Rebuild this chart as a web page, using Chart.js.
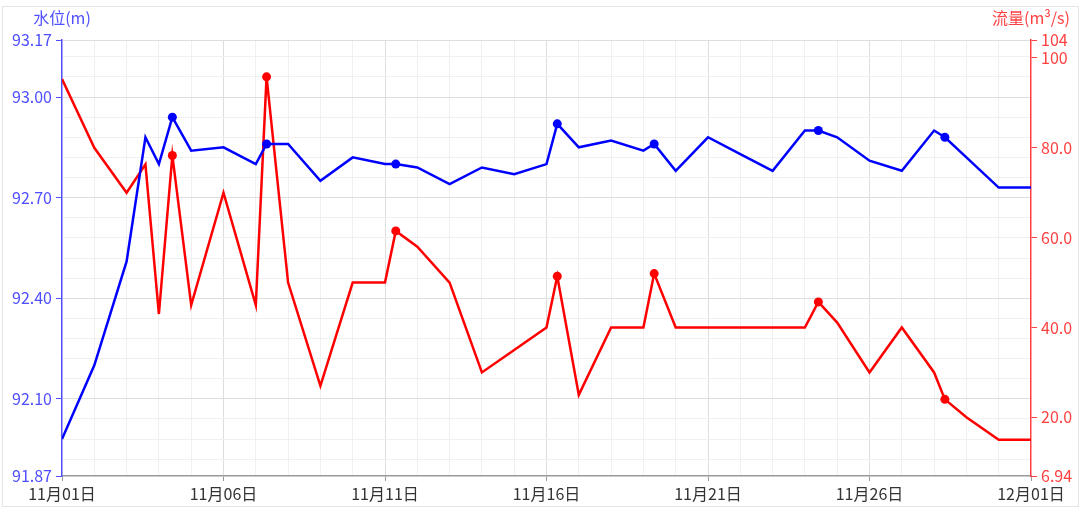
<!DOCTYPE html>
<html>
<head>
<meta charset="utf-8">
<script src="https://cdn.jsdelivr.net/npm/chart.js@4.4.0/dist/chart.umd.min.js"></script>
<style>
  html, body { margin: 0; padding: 0; background: #fff; }
  #wrap { position: relative; width: 1080px; height: 508px; }
  #frame { position: absolute; left: 2px; top: 6px; width: 1075px; height: 499px; border: 1px solid #e4e4e4; }
  canvas { position: absolute; left: 0; top: 0; }
</style>
</head>
<body>
<div id="wrap">
  <div id="frame"></div>
  <canvas id="chart" width="1080" height="508"></canvas>
</div>
<script>
// sample times (MM-DD HH)
const times = [
    '11-01 00', '11-02 00', '11-03 00', '11-03 14', '11-04 00', '11-04 10', '11-05 00',
    '11-06 00', '11-07 00', '11-07 08', '11-08 00', '11-09 00', '11-10 00', '11-11 00',
    '11-11 08', '11-12 00', '11-13 00', '11-14 00', '11-15 00', '11-16 00', '11-16 08',
    '11-17 00', '11-18 00', '11-19 00', '11-19 08', '11-20 00', '11-21 00', '11-22 00',
    '11-23 00', '11-24 00', '11-24 10', '11-25 00', '11-26 00', '11-27 00', '11-28 00',
    '11-28 08', '11-29 00', '11-30 00', '12-01 00'
];
// times that carry a dot marker
const markedTimes = ['11-04 10', '11-07 08', '11-11 08', '11-16 08', '11-19 08', '11-24 10', '11-28 08'];
// 水位 (m)
const waterLevel = [
    91.98, 92.20, 92.51, 92.88, 92.80, 92.94, 92.84,
    92.85, 92.80, 92.86, 92.86, 92.75, 92.82, 92.80,
    92.80, 92.79, 92.74, 92.79, 92.77, 92.80, 92.92,
    92.85, 92.87, 92.84, 92.86, 92.78, 92.88, 92.83,
    92.78, 92.90, 92.90, 92.88, 92.81, 92.78, 92.90,
    92.88, 92.82, 92.73, 92.73
];
// 流量 (m³/s)
const flow = [
    95.3, 80, 70, 76.3, 43, 78.3, 45,
    70, 45, 95.8, 50, 27, 50, 50,
    61.5, 58, 50, 30, 35, 40, 51.4,
    25, 40, 40, 52, 40, 40, 40,
    40, 40, 45.7, 41.1, 30, 40, 30,
    24, 20, 15, 15
];
const xTickLabels = ['11月01日', '11月06日', '11月11日', '11月16日', '11月21日', '11月26日', '12月01日'];
const levelTicks = [91.87, 92.10, 92.40, 92.70, 93.00, 93.17];
const flowTicks = [6.94, 20, 40, 60, 80, 100, 104];

const FONT = '"Noto Sans CJK SC", "Noto Sans", sans-serif';
const LEFT_COLOR = '#4f4fff';
const RIGHT_COLOR = '#ff4040';

function dayOffset(t) {
    const [md, hh] = t.split(' ');
    const [m, d] = md.split('-').map(Number);
    return (m === 12 ? 30 : 0) + d - 1 + Number(hh) / 24;
}

const isMajorLevel = v => levelTicks.some(t => Math.abs(t - v) < 0.001);

const axisTitles = {
    id: 'axisTitles',
    afterDraw(chart) {
        const { ctx, chartArea } = chart;
        ctx.save();
        ctx.font = '16px ' + FONT;
        ctx.textAlign = 'center';
        ctx.textBaseline = 'middle';
        ctx.fillStyle = LEFT_COLOR;
        ctx.fillText('水位(m)', chartArea.left, chartArea.top - 22);
        ctx.fillStyle = RIGHT_COLOR;
        ctx.fillText('流量(m³/s)', chartArea.right, chartArea.top - 22);
        ctx.restore();
    }
};

Chart.defaults.font.family = FONT;
Chart.defaults.font.size = 16;

const markPoint = c => (c.raw && markedTimes.includes(c.raw.t) ? 4.5 : 0);

const toPoints = values => times.map((t, i) => ({ x: dayOffset(t), y: values[i], t: t }));

new Chart(document.getElementById('chart'), {
    type: 'line',
    data: {
        datasets: [
            {
                label: '水位',
                yAxisID: 'yLevel',
                data: toPoints(waterLevel),
                borderColor: '#0000ff',
                backgroundColor: '#0000ff',
                borderWidth: 2.5,
                pointRadius: markPoint,
                pointBorderWidth: 0,
                tension: 0
            },
            {
                label: '流量',
                yAxisID: 'yFlow',
                data: toPoints(flow),
                borderColor: '#ff0000',
                backgroundColor: '#ff0000',
                borderWidth: 2.5,
                pointRadius: markPoint,
                pointBorderWidth: 0,
                tension: 0
            }
        ]
    },
    options: {
        responsive: false,
        animation: false,
        layout: { padding: { top: 40, left: 0, right: 0, bottom: 0 } },
        plugins: {
            legend: { display: false },
            tooltip: { enabled: false }
        },
        scales: {
            x: {
                type: 'linear',
                min: 0,
                max: 30,
                afterBuildTicks: s => { s.ticks = Array.from({ length: 31 }, (_, i) => ({ value: i })); },
                afterFit: s => { s.height = 32; },
                border: { color: '#999', width: 1.5 },
                grid: {
                    color: c => {
                        const v = c.tick ? c.tick.value : 1;
                        if (v === 0 || v === 30) return 'rgba(0,0,0,0)';
                        return v % 5 === 0 ? '#dedede' : '#f0f0f0';
                    },
                    tickColor: c => (c.tick && c.tick.value % 5 === 0 ? '#999' : 'rgba(0,0,0,0)'),
                    tickLength: 5
                },
                ticks: {
                    autoSkip: false,
                    maxRotation: 0,
                    color: '#333',
                    padding: 3,
                    callback: v => (v % 5 === 0 ? xTickLabels[v / 5] : '')
                }
            },
            yLevel: {
                type: 'linear',
                position: 'left',
                min: 91.87,
                max: 93.17,
                afterBuildTicks: s => {
                    const vals = [...levelTicks];
                    for (let v = 92.10 - 0.06; v > 91.88; v -= 0.06) vals.push(+v.toFixed(2));
                    for (let v = 92.10 + 0.06; v < 93.16; v += 0.06) vals.push(+v.toFixed(2));
                    const uniq = [...new Set(vals.map(v => +v.toFixed(2)))].sort((a, b) => a - b);
                    s.ticks = uniq.map(v => ({ value: v }));
                },
                afterFit: s => { s.width = 62; },
                border: { color: LEFT_COLOR, width: 1.5 },
                grid: {
                    color: c => {
                        const v = c.tick ? c.tick.value : 0;
                        if (Math.abs(v - 91.87) < 0.001) return 'rgba(0,0,0,0)';
                        return isMajorLevel(v) ? '#dedede' : '#f0f0f0';
                    },
                    tickColor: c => (c.tick && isMajorLevel(c.tick.value) ? LEFT_COLOR : 'rgba(0,0,0,0)'),
                    tickLength: 6
                },
                ticks: {
                    autoSkip: false,
                    color: LEFT_COLOR,
                    padding: 4,
                    callback: v => (isMajorLevel(v) ? v.toFixed(2) : '')
                }
            },
            yFlow: {
                type: 'linear',
                position: 'right',
                min: 6.94,
                max: 104,
                afterBuildTicks: s => { s.ticks = flowTicks.map(v => ({ value: v })); },
                afterFit: s => { s.width = 49; },
                border: { color: RIGHT_COLOR, width: 1.5 },
                grid: {
                    drawOnChartArea: false,
                    tickColor: RIGHT_COLOR,
                    tickLength: 6
                },
                ticks: {
                    autoSkip: false,
                    color: RIGHT_COLOR,
                    padding: 4,
                    callback: v => Number(v).toPrecision(3)
                }
            }
        }
    },
    plugins: [axisTitles]
});
</script>
</body>
</html>
